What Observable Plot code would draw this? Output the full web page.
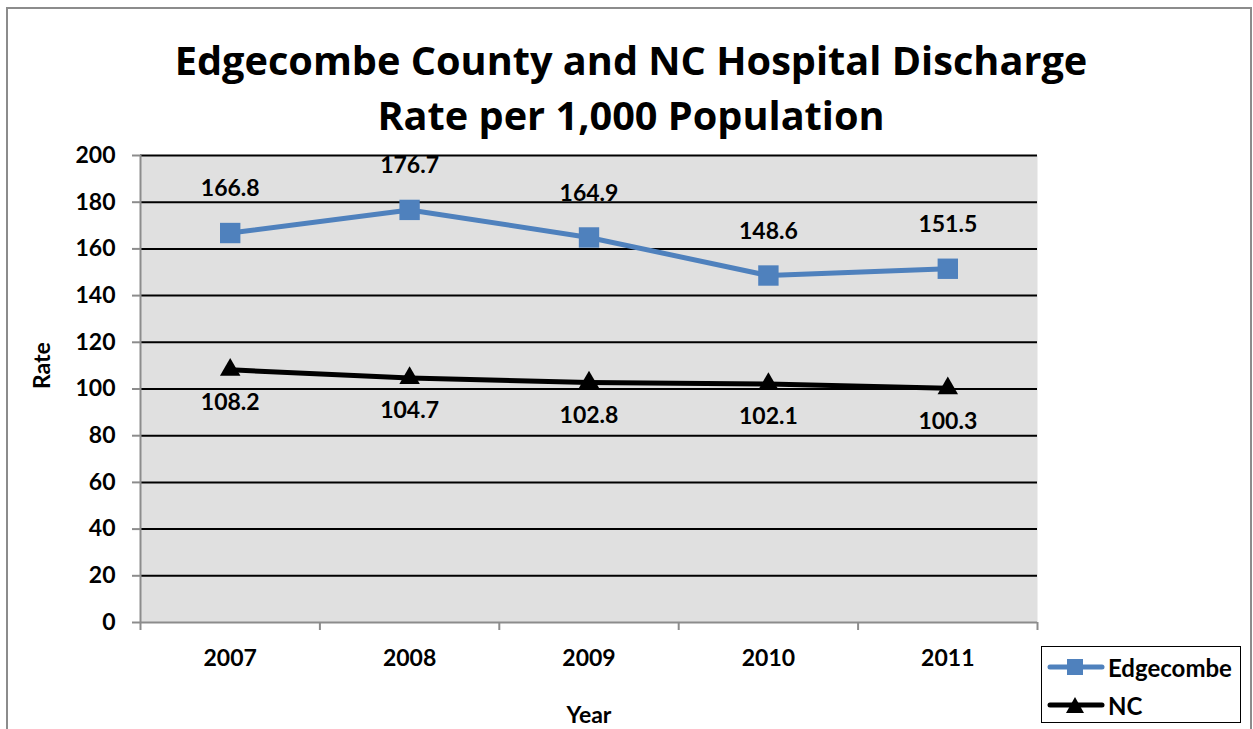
<!DOCTYPE html>
<html>
<head>
<meta charset="utf-8">
<script src="https://cdn.jsdelivr.net/npm/d3@7"></script>
<script src="https://cdn.jsdelivr.net/npm/@observablehq/plot@0.6"></script>
<style>
  body { margin: 0; background: #fff; font-family: Lato, "Open Sans", sans-serif; font-variant-ligatures: none; }
  #wrap { position: relative; width: 1253px; height: 729px; overflow: hidden; background: #fff; }
  #border { position: absolute; left: 6px; top: 7px; width: 1242px; height: 780px; border: 2px solid #8c8c8c; }
  #chart { position: absolute; left: 0; top: 0; }
  #title { position: absolute; left: 9px; width: 1244px; top: 33px; text-align: center;
           font-family: "Open Sans", Lato, sans-serif; font-weight: 700; font-size: 39.7px;
           line-height: 55px; color: #000; }
  #legend { position: absolute; left: 1041px; top: 646px; width: 198px; height: 75px;
            border: 1.5px solid #000; background: #fff; }
  .item { position: absolute; left: 5px; height: 24px; display: flex; align-items: center;
          font-weight: 700; font-size: 24px; color: #000; }
  .item svg { display: block; margin-right: 3px; }
</style>
</head>
<body>
<div id="wrap">
  <div id="border"></div>
  <div id="chart"></div>
  <div id="title">Edgecombe County and NC Hospital Discharge<br>Rate per 1,000 Population</div>
  <div id="legend"></div>
</div>
<script>
// Discharge rates per 1,000 population, by year
const years = [2007, 2008, 2009, 2010, 2011];
const edgecombe = [166.8, 176.7, 164.9, 148.6, 151.5];
const nc = [108.2, 104.7, 102.8, 102.1, 100.3];
const yTicks = [0, 20, 40, 60, 80, 100, 120, 140, 160, 180, 200];
const seriesNames = ["Edgecombe", "NC"];
const seriesColors = ["#4f81bd", "#000000"];
const seriesSymbols = ["square", "triangle"];

const edgeRows = years.map((year, i) => ({year, series: seriesNames[0], rate: edgecombe[i]}));
const ncRows = years.map((year, i) => ({year, series: seriesNames[1], rate: nc[i]}));
// category boundaries for the tick marks between years
const bounds = years.map(y => y - 0.5).concat(years[years.length - 1] + 0.5);

const labelFont = {fontSize: 23, fontWeight: 700, fill: "#000"};

const chart = Plot.plot({
  width: 1253,
  height: 729,
  marginLeft: 140,
  marginRight: 216,
  marginTop: 155,
  marginBottom: 107,
  style: {fontFamily: "Lato, 'Open Sans', sans-serif", background: "transparent"},
  x: {domain: [bounds[0], bounds[bounds.length - 1]]},
  y: {domain: [0, 200]},
  marks: [
    Plot.frame({fill: "#e0e0e0", stroke: null}),
    Plot.gridY(yTicks.filter(d => d > 0), {stroke: "#000", strokeOpacity: 1, strokeWidth: 2}),
    Plot.ruleY([0], {stroke: "#8c8c8c", strokeWidth: 2}),
    Plot.ruleX([bounds[0]], {stroke: "#8c8c8c", strokeWidth: 2}),
    Plot.axisY(yTicks, {tickSize: 8, tickPadding: 17, stroke: "#8c8c8c", strokeWidth: 2, ...labelFont, label: null}),
    Plot.axisX(bounds, {tickSize: 8, tickFormat: () => "", stroke: "#8c8c8c", strokeWidth: 2, label: null}),
    Plot.axisX(years, {tickSize: 0, tickPadding: 27, tickFormat: d => String(d), ...labelFont, label: null}),
    Plot.text(["Year"], {frameAnchor: "bottom", dy: 100, ...labelFont}),
    Plot.text(["Rate"], {frameAnchor: "left", dx: -98, rotate: -90, ...labelFont}),
    Plot.lineY(edgeRows, {x: "year", y: "rate", stroke: seriesColors[0], strokeWidth: 5}),
    Plot.lineY(ncRows, {x: "year", y: "rate", stroke: seriesColors[1], strokeWidth: 5}),
    Plot.dot(edgeRows, {x: "year", y: "rate", symbol: seriesSymbols[0], r: 11.5, fill: seriesColors[0]}),
    Plot.dot(ncRows, {x: "year", y: "rate", symbol: seriesSymbols[1], r: 7.6, fill: seriesColors[1]}),
    Plot.text(edgeRows, {x: "year", y: "rate", text: d => d.rate.toFixed(1), dy: -44, ...labelFont}),
    Plot.text(ncRows, {x: "year", y: "rate", text: d => d.rate.toFixed(1), dy: 33, ...labelFont})
  ]
});
document.getElementById("chart").appendChild(chart);

// Legend: line with marker, then series name
const legend = document.getElementById("legend");
seriesNames.forEach((name, i) => {
  const item = document.createElement("div");
  item.className = "item";
  item.style.top = (i === 0 ? 8 : 46) + "px";
  const sym = seriesSymbols[i] === "square"
    ? `<rect x="20" y="2" width="16" height="16" fill="${seriesColors[i]}"/>`
    : `<path d="M28,2 L37,18 L19,18 Z" fill="${seriesColors[i]}"/>`;
  item.innerHTML = `<svg width="58" height="20" viewBox="0 0 58 20">
      <line x1="3" y1="10" x2="55" y2="10" stroke="${seriesColors[i]}" stroke-width="5" stroke-linecap="round"/>
      ${sym}</svg><span>${name}</span>`;
  legend.appendChild(item);
});
</script>
</body>
</html>
